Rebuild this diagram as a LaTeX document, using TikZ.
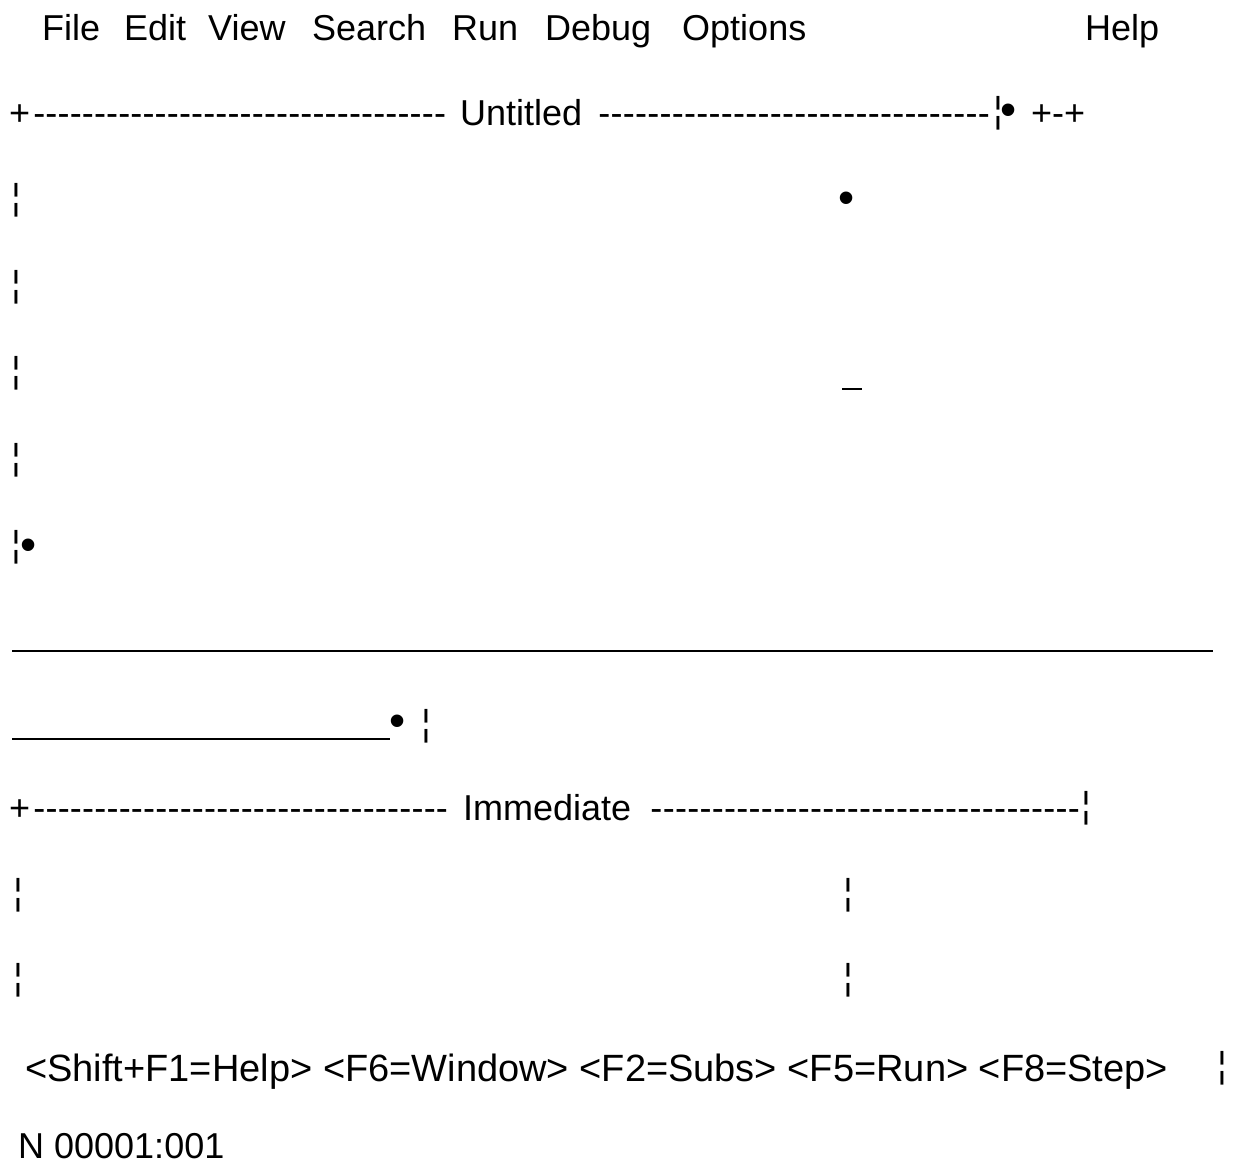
\documentclass[tikz,border=0pt]{standalone}
\usepackage{fontspec}
\setmainfont{Liberation Sans}
\newcommand\scrfont{\fontsize{36}{40}\selectfont}
\newcommand\dotfont{\fontsize{46}{50}\selectfont}
\newcommand\statfont{\fontsize{38}{42}\selectfont}
\newcommand\hyrun[1]{\hbox to #1pt{\xleaders\hbox{-}\hfill}}
\begin{document}
\begin{tikzpicture}[x=1pt,y=-1pt,
  txt/.style={font=\scrfont,inner sep=0pt,anchor=base west,text=black},
  bar/.style={font=\scrfont,inner sep=0pt,anchor=center,text=black},
  dot/.style={font=\dotfont,inner sep=0pt,anchor=base,text=black},
  rule/.style={line width=1.6pt,black}]
\useasboundingbox[fill=white] (0,0) rectangle (1238,1171);
% menu bar
\node[txt] (mFile) at (42,40) {File};
\node[txt] (mEdit) at (124,40) {Edit};
\node[txt] (mView) at (208,40) {View};
\node[txt] (mSearch) at (312,40) {Search};
\node[txt] (mRun) at (452,40) {Run};
\node[txt] (mDebug) at (545,40) {Debug};
\node[txt] (mOptions) at (682,40) {Options};
\node[txt] (mHelp) at (1085,40) {Help};
% Untitled title row
\node[txt] (uPlus) at (9,125) {+};
\node[txt] (uDashL) at (33,125) {\hyrun{413}};
\node[txt] (uTitle) at (460,125) {Untitled};
\node[txt] (uDashR) at (598,125) {\hyrun{392}};
\node[bar] (uBar) at (998,113) {¦};
\node[dot] (uDot) at (1009,125) {•};
\node[txt] (uCorner) at (1031,125) {+-+};
% left border of the editor window
\node[bar] (lb1) at (16,200) {¦};
\node[bar] (lb2) at (16,287) {¦};
\node[bar] (lb3) at (16,373) {¦};
\node[bar] (lb4) at (16,460) {¦};
\node[bar] (lb5) at (16,547) {¦};
\node[dot] (lbDot) at (29,560) {•};
% editor interior
\node[dot] (eDot) at (847,213) {•};
\coordinate (curL) at (842,389);
\coordinate (curR) at (862,389);
\draw[line width=2pt] (curL) -- (curR);
% horizontal rules
\coordinate (h1L) at (12,651);
\coordinate (h1R) at (1213,651);
\draw[rule] (h1L) -- (h1R);
\coordinate (h2L) at (12,739);
\coordinate (h2R) at (390,739);
\draw[rule] (h2L) -- (h2R);
\node[dot] (hDot) at (398,736) {•};
\node[bar] (hBar) at (426,726) {¦};
% Immediate title row
\node[txt] (iPlus) at (9,820) {+};
\node[txt] (iDashL) at (33,820) {\hyrun{415}};
\node[txt] (iTitle) at (463,820) {Immediate};
\node[txt] (iDashR) at (650,820) {\hyrun{430}};
\node[bar] (iBar) at (1086,808) {¦};
% immediate window borders
\node[bar] (ib1) at (18,895) {¦};
\node[bar] (ib2) at (18,980) {¦};
\node[bar] (ib3) at (848,895) {¦};
\node[bar] (ib4) at (848,980) {¦};
% status line
\node[txt,font=\statfont] (status) at (25,1081) {<Shift+F1=Help> <F6=Window> <F2=Subs> <F5=Run> <F8=Step>};
\node[bar] (sBar) at (1222,1068) {¦};
\node[txt] (pos) at (18,1158) {N 00001:001};
\end{tikzpicture}
\end{document}
